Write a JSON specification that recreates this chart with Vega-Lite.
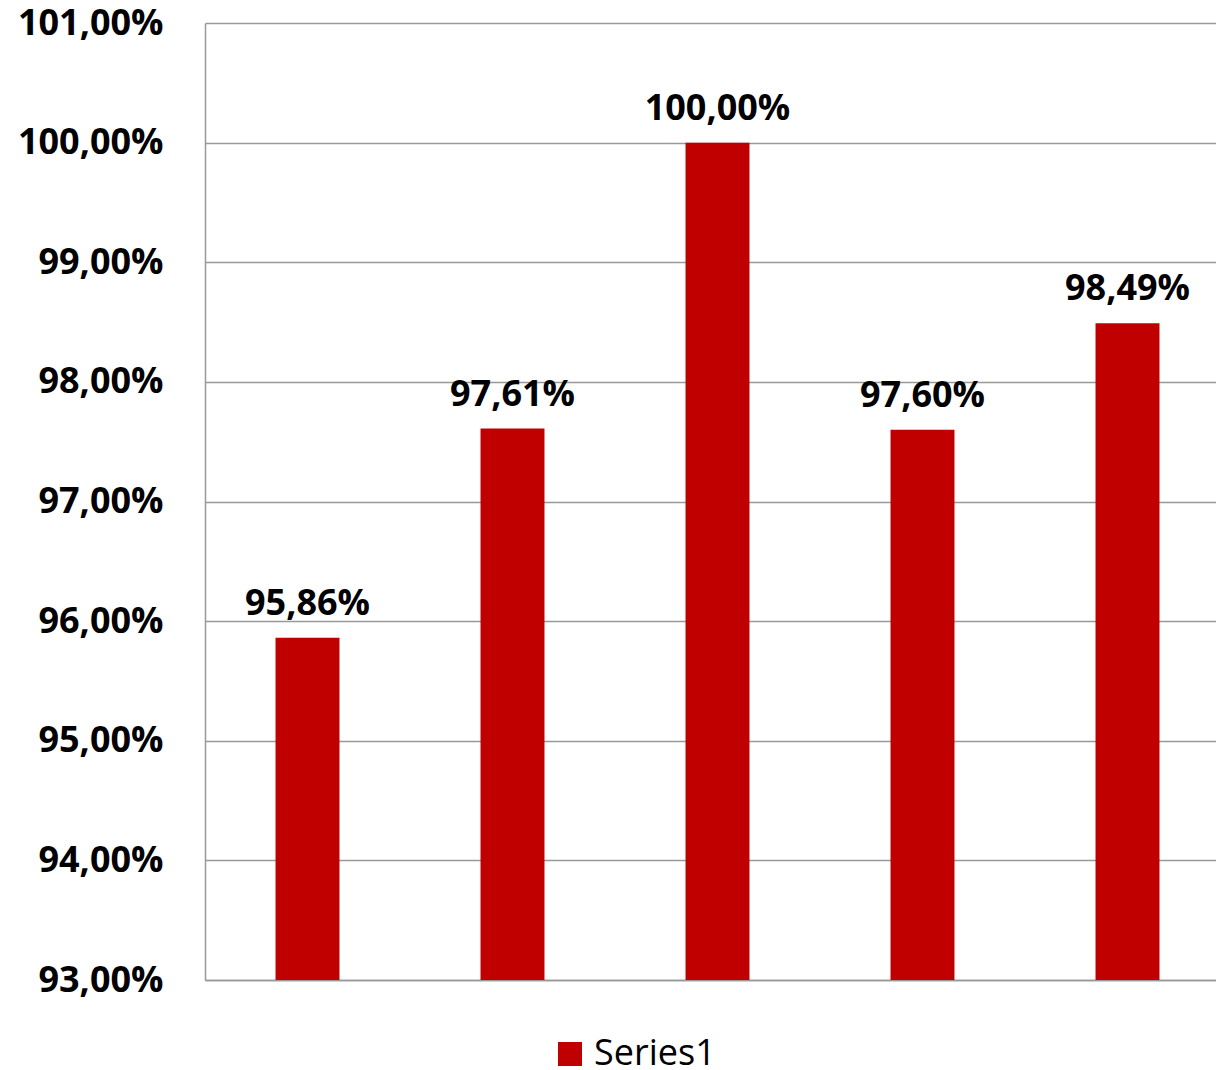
{
  "$schema": "https://vega.github.io/schema/vega-lite/v6.json",
  "autosize": {"type": "none"},
  "padding": {"left": 205, "top": 23, "right": 0, "bottom": 90},
  "width": 1011,
  "height": 957,
  "background": "white",
  "data": {
    "values": [
      {"cat": "1", "series": "Series1", "value": 0.9586},
      {"cat": "2", "series": "Series1", "value": 0.9761},
      {"cat": "3", "series": "Series1", "value": 1.0},
      {"cat": "4", "series": "Series1", "value": 0.976},
      {"cat": "5", "series": "Series1", "value": 0.9849}
    ]
  },
  "encoding": {
    "x": {
      "field": "cat",
      "type": "nominal",
      "scale": {"range": [0, 1025], "paddingInner": 0.688, "paddingOuter": 0.344},
      "axis": {"labels": false, "ticks": false, "title": null, "domain": true, "domainColor": "#999999", "domainWidth": 1.5}
    },
    "y": {
      "field": "value",
      "type": "quantitative",
      "scale": {"domain": [0.93, 1.01], "zero": false, "nice": false},
      "axis": {
        "title": null,
        "values": [0.93, 0.94, 0.95, 0.96, 0.97, 0.98, 0.99, 1.0, 1.01],
        "format": ".2%",
        "ticks": false,
        "labelPadding": 42,
        "labelFont": "Open Sans",
        "labelFontWeight": "bold",
        "labelFontSize": 36,
        "labelColor": "#000000",
        "domainColor": "#999999",
        "domainWidth": 1.5,
        "gridColor": "#999999",
        "gridWidth": 1.5
      }
    }
  },
  "layer": [
    {
      "mark": {"type": "bar", "clip": true},
      "encoding": {
        "color": {
          "field": "series",
          "type": "nominal",
          "scale": {"range": ["#C00000"]},
          "legend": {
            "title": null,
            "orient": "none",
            "legendX": 347,
            "legendY": 1013,
            "symbolType": "square",
            "symbolSize": 576,
            "symbolStrokeWidth": 0,
            "labelFont": "Open Sans",
            "labelFontSize": 36,
            "labelColor": "#000000",
            "labelOffset": 6
          }
        }
      }
    },
    {
      "mark": {
        "type": "text",
        "baseline": "alphabetic",
        "align": "center",
        "dy": -23,
        "font": "Open Sans",
        "fontWeight": "bold",
        "fontSize": 36,
        "color": "#000000"
      },
      "encoding": {
        "text": {"field": "value", "type": "quantitative", "format": ".2%"}
      }
    }
  ],
  "config": {
    "locale": {
      "number": {"decimal": ",", "thousands": ".", "grouping": [3], "currency": ["", " €"]}
    },
    "view": {"stroke": null}
  }
}
